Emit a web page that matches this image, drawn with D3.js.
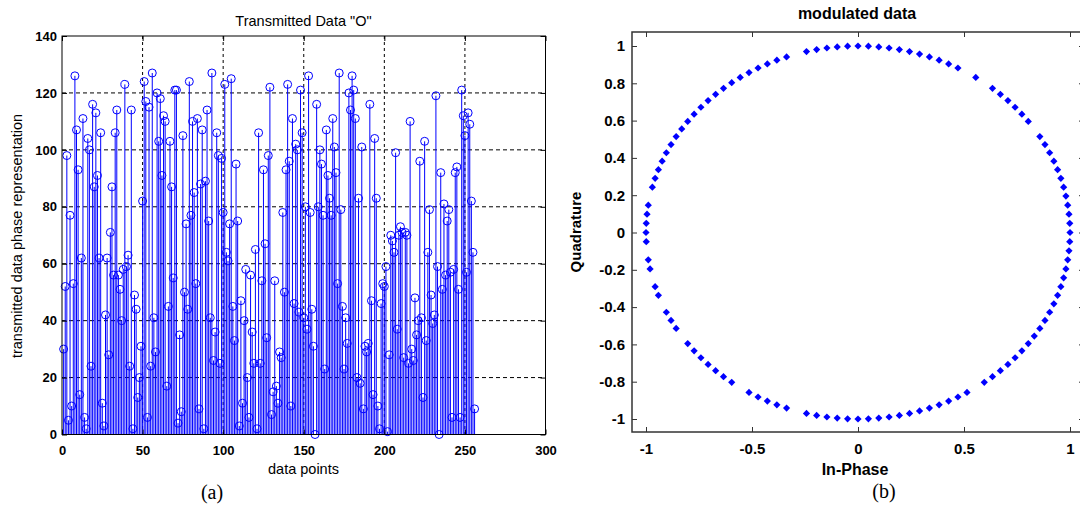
<!DOCTYPE html>
<html>
<head>
<meta charset="utf-8">
<script src="https://cdn.jsdelivr.net/npm/d3@7"></script>
<style>
body { margin: 0; background: #fff; }
text { font-family: "Liberation Sans", Arial, sans-serif; fill: #000; }
</style>
</head>
<body>
<div id="chart"></div>
<script>
// transmitted phase symbols (0..127), one per data point
var phaseValues = [
    30, 52, 98, 5, 77, 10, 53, 126, 107, 93,
    14, 62, 111, 6, 2, 104, 100, 24, 116, 87,
    113, 91, 62, 106, 11, 3, 42, 62, 28, 71,
    87, 56, 106, 114, 56, 51, 40, 58, 123, 59,
    63, 24, 114, 2, 49, 44, 13, 20, 31, 82,
    124, 117, 6, 115, 24, 127, 41, 29, 120, 103,
    118, 91, 112, 110, 17, 45, 103, 87, 55, 121,
    121, 4, 35, 8, 105, 50, 74, 44, 124, 77,
    110, 85, 53, 111, 9, 88, 107, 2, 89, 114,
    75, 41, 127, 26, 36, 106, 98, 25, 97, 78,
    123, 64, 61, 74, 125, 45, 33, 95, 75, 3,
    47, 11, 40, 58, 20, 6, 56, 36, 25, 65,
    2, 106, 25, 54, 93, 67, 34, 98, 122, 7,
    15, 54, 17, 11, 29, 27, 78, 50, 93, 123,
    96, 10, 111, 46, 102, 100, 43, 121, 106, 41,
    80, 37, 126, 78, 44, 31, 0, 116, 80, 100,
    95, 77, 23, 107, 91, 83, 77, 111, 101, 92,
    53, 127, 79, 45, 23, 41, 32, 120, 114, 126,
    121, 111, 20, 83, 18, 101, 9, 31, 29, 32,
    116, 47, 14, 104, 83, 10, 2, 46, 53, 52,
    59, 1, 28, 70, 68, 64, 99, 37, 70, 73,
    71, 27, 71, 70, 25, 110, 30, 26, 48, 35,
    40, 96, 41, 13, 103, 33, 64, 79, 49, 39,
    42, 119, 59, 0, 92, 51, 81, 56, 75, 79,
    57, 6, 58, 92, 94, 51, 6, 121, 112, 105,
    57, 113, 109, 82, 64, 9
];
var stemXTicks = [0, 50, 100, 150, 200, 250, 300];
var stemYTicks = [0, 20, 40, 60, 80, 100, 120, 140];

// 128-PSK: symbol indices that show up on the constellation
var pskOrder = 128;
var symbolsSeen = [
    0, 1, 2, 3, 4, 5, 6, 7, 8, 9, 10, 11, 13, 14, 15, 16, 17, 18, 20, 22,
    23, 24, 25, 26, 27, 28, 29, 30, 31, 32, 33, 34, 35, 36, 37, 39, 40, 41, 42, 43,
    44, 45, 46, 47, 48, 49, 50, 51, 52, 53, 54, 55, 56, 57, 58, 59, 61, 62, 63, 64,
    65, 67, 68, 70, 71, 73, 74, 75, 77, 78, 79, 80, 81, 82, 83, 85, 86, 87, 88, 89,
    91, 92, 93, 94, 95, 96, 97, 98, 99, 100, 101, 102, 103, 104, 105, 106, 107, 109, 110, 111,
    112, 113, 114, 115, 116, 117, 118, 119, 120, 121, 122, 123, 124, 125, 126, 127
];
var iqXTicks = [-1, -0.5, 0, 0.5, 1];
var iqYTicks = [-1, -0.8, -0.6, -0.4, -0.2, 0, 0.2, 0.4, 0.6, 0.8, 1];

var svg = d3.select("#chart").append("svg")
    .attr("width", 1080).attr("height", 508)
    .style("background", "#fff");

StemDisplay = function(_svg, _data) {
    this.svg = _svg;
    this.data = _data;
    this.init();
}

StemDisplay.prototype.init = function() {
    var vis = this;
    vis.left = 62; vis.right = 545.5; vis.top = 36; vis.bottom = 434.5;

    vis.x = d3.scaleLinear().domain([0, 300]).range([vis.left, vis.right]);
    vis.y = d3.scaleLinear().domain([0, 140]).range([vis.bottom, vis.top]);

    var g = vis.svg.append("g");

    // dotted grid
    g.selectAll(".vgrid").data(stemXTicks.slice(1, -1)).enter().append("line")
        .attr("x1", function(d) { return vis.x(d); })
        .attr("x2", function(d) { return vis.x(d); })
        .attr("y1", vis.top).attr("y2", vis.bottom)
        .attr("stroke", "#000").attr("stroke-dasharray", "3,3");
    g.selectAll(".hgrid").data(stemYTicks.slice(1, -1)).enter().append("line")
        .attr("y1", function(d) { return vis.y(d); })
        .attr("y2", function(d) { return vis.y(d); })
        .attr("x1", vis.left).attr("x2", vis.right)
        .attr("stroke", "#000").attr("stroke-dasharray", "4,3");

    // stems
    g.selectAll(".stem").data(vis.data).enter().append("line")
        .attr("x1", function(d, i) { return vis.x(i + 1); })
        .attr("x2", function(d, i) { return vis.x(i + 1); })
        .attr("y1", vis.y(0))
        .attr("y2", function(d) { return vis.y(d); })
        .attr("stroke", "#0000ff").attr("stroke-width", 1);
    g.selectAll(".mark").data(vis.data).enter().append("circle")
        .attr("cx", function(d, i) { return vis.x(i + 1); })
        .attr("cy", function(d) { return vis.y(d); })
        .attr("r", 4)
        .attr("fill", "none").attr("stroke", "#0000ff").attr("stroke-width", 1);

    // axes, ticks inside like matlab
    var xAxis = g.append("g").attr("transform", "translate(0," + vis.bottom + ")")
        .call(d3.axisBottom(vis.x).tickValues(stemXTicks).tickSize(-5).tickPadding(11).tickSizeOuter(0));
    var yAxis = g.append("g").attr("transform", "translate(" + vis.left + ",0)")
        .call(d3.axisLeft(vis.y).tickValues(stemYTicks).tickSize(-5).tickPadding(5).tickSizeOuter(0));
    g.append("g").attr("transform", "translate(0," + vis.top + ")")
        .call(d3.axisTop(vis.x).tickValues(stemXTicks).tickSize(-5).tickFormat("").tickSizeOuter(0));
    g.append("g").attr("transform", "translate(" + vis.right + ",0)")
        .call(d3.axisRight(vis.y).tickValues(stemYTicks).tickSize(-5).tickFormat("").tickSizeOuter(0));
    g.selectAll(".domain").remove();
    [xAxis, yAxis].forEach(function(a) {
        a.selectAll("text").style("font-size", "13px").style("font-weight", "bold")
            .style("font-family", "'Liberation Sans', Arial, sans-serif").attr("fill", "#111");
    });

    g.append("rect")
        .attr("x", vis.left).attr("y", vis.top)
        .attr("width", vis.right - vis.left).attr("height", vis.bottom - vis.top)
        .attr("fill", "none").attr("stroke", "#000");

    g.append("text").attr("x", 303.5).attr("y", 25.5).attr("text-anchor", "middle")
        .style("font-size", "14.5px").text("Transmitted Data \"O\"");
    g.append("text").attr("x", 303.5).attr("y", 474).attr("text-anchor", "middle")
        .style("font-size", "14.5px").text("data points");
    g.append("text").attr("transform", "translate(22,236) rotate(-90)").attr("text-anchor", "middle")
        .style("font-size", "14.5px").text("transmitted data phase representation");
    g.append("text").attr("x", 212).attr("y", 499).attr("text-anchor", "middle")
        .style("font-family", "'Liberation Serif', 'Times New Roman', serif").style("font-size", "20px")
        .text("(a)");
}

ConstellationDisplay = function(_svg, _data) {
    this.svg = _svg;
    this.data = _data;
    this.init();
}

ConstellationDisplay.prototype.init = function() {
    var vis = this;
    vis.left = 632; vis.right = 1084; vis.top = 32; vis.bottom = 432;

    vis.x = d3.scaleLinear().domain([-1, 1]).range([646, 1070]);
    vis.y = d3.scaleLinear().domain([-1, 1]).range([419, 46]);

    var g = vis.svg.append("g");
    var points = vis.data.map(function(k) {
        var phi = 2 * Math.PI * k / pskOrder;
        return { i: Math.cos(phi), q: Math.sin(phi) };
    });

    g.selectAll(".sym").data(points).enter().append("path")
        .attr("d", "M0,-3.6L3.6,0L0,3.6L-3.6,0Z")
        .attr("transform", function(d) { return "translate(" + vis.x(d.i) + "," + vis.y(d.q) + ")"; })
        .attr("fill", "#0000ff");

    var xAxis = g.append("g").attr("transform", "translate(0," + vis.bottom + ")")
        .call(d3.axisBottom(vis.x).tickValues(iqXTicks).tickSize(-5).tickPadding(11).tickSizeOuter(0)
            .tickFormat(function(d) { return d3.format("")(d).replace("−", "-"); }));
    var yAxis = g.append("g").attr("transform", "translate(" + vis.left + ",0)")
        .call(d3.axisLeft(vis.y).tickValues(iqYTicks).tickSize(-5).tickPadding(7).tickSizeOuter(0)
            .tickFormat(function(d) { return d3.format("")(+d.toFixed(1)).replace("−", "-"); }));
    g.append("g").attr("transform", "translate(0," + vis.top + ")")
        .call(d3.axisTop(vis.x).tickValues(iqXTicks).tickSize(-5).tickFormat("").tickSizeOuter(0));
    g.append("g").attr("transform", "translate(" + vis.right + ",0)")
        .call(d3.axisRight(vis.y).tickValues(iqYTicks).tickSize(-5).tickFormat("").tickSizeOuter(0));
    g.selectAll(".domain").remove();
    g.selectAll(".tick line").attr("stroke", "#333");
    [xAxis, yAxis].forEach(function(a) {
        a.selectAll("text").style("font-size", "15px").style("font-weight", "bold")
            .style("font-family", "'Liberation Sans', Arial, sans-serif").attr("fill", "#111");
    });

    g.append("rect")
        .attr("x", vis.left).attr("y", vis.top)
        .attr("width", vis.right - vis.left).attr("height", vis.bottom - vis.top)
        .attr("fill", "none").attr("stroke", "#333").attr("stroke-width", 1.5);

    g.append("text").attr("x", 857).attr("y", 19).attr("text-anchor", "middle")
        .style("font-size", "16px").style("font-weight", "bold").attr("fill", "#222").text("modulated data");
    g.append("text").attr("x", 855).attr("y", 475).attr("text-anchor", "middle")
        .style("font-size", "16px").style("font-weight", "bold").attr("fill", "#222").text("In-Phase");
    g.append("text").attr("transform", "translate(581,232) rotate(-90)").attr("text-anchor", "middle")
        .style("font-size", "15px").style("font-weight", "bold").attr("fill", "#222").text("Quadrature");
    g.append("text").attr("x", 884).attr("y", 498).attr("text-anchor", "middle")
        .style("font-family", "'Liberation Serif', 'Times New Roman', serif").style("font-size", "20px")
        .text("(b)");
}

new StemDisplay(svg, phaseValues);
new ConstellationDisplay(svg, symbolsSeen);
</script>
</body>
</html>
